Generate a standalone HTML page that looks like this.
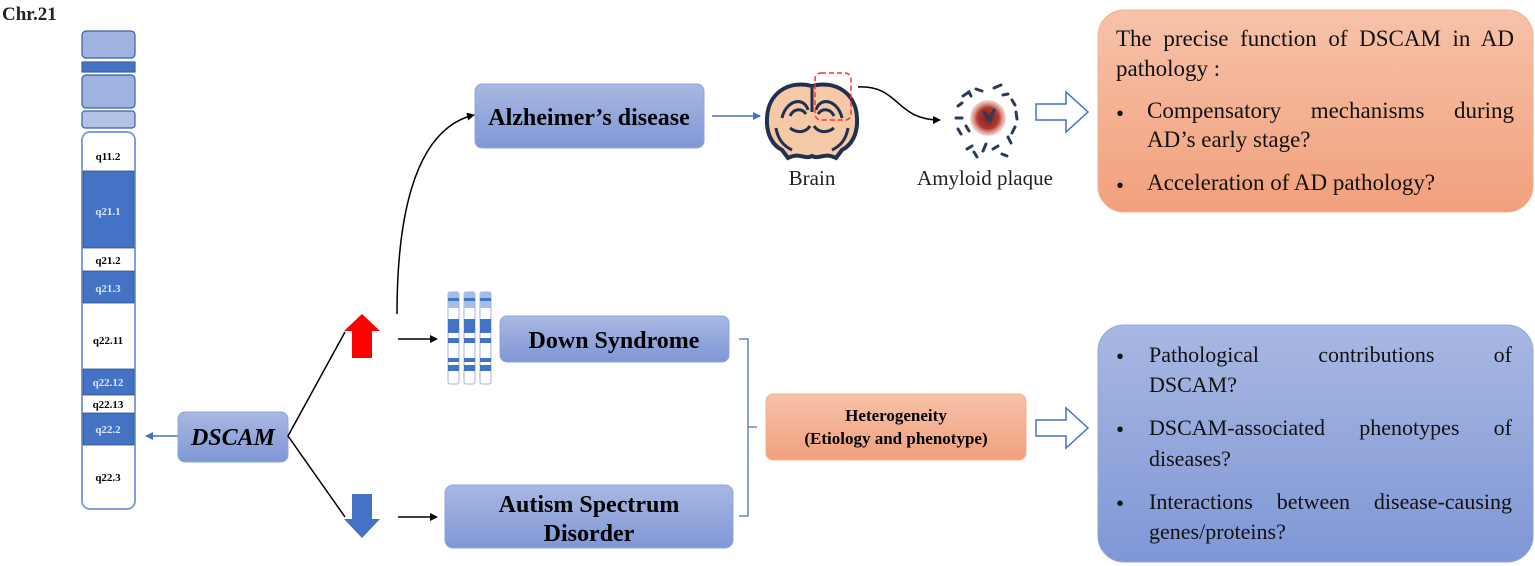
<!DOCTYPE html>
<html><head><meta charset="utf-8"><style>
body{margin:0;background:#fff;}
svg{display:block;font-family:"Liberation Serif",serif;position:absolute;left:0;top:0;}
.t{position:absolute;font-family:"Liberation Serif",serif;color:#111;white-space:nowrap;}
.j{text-align:justify;text-align-last:justify;white-space:normal;}
</style></head><body>
<div style="position:relative;width:1535px;height:566px;overflow:hidden">
<svg width="1535" height="566" viewBox="0 0 1535 566" xmlns="http://www.w3.org/2000/svg">
<defs>
<linearGradient id="bl" x1="0" y1="0" x2="0" y2="1"><stop offset="0" stop-color="#a9b8e2"/><stop offset="1" stop-color="#7f97d6"/></linearGradient>
<linearGradient id="or" x1="0" y1="0" x2="0" y2="1"><stop offset="0" stop-color="#f7c2a9"/><stop offset="1" stop-color="#f1a07c"/></linearGradient>
<radialGradient id="pl"><stop offset="0" stop-color="#7a2020"/><stop offset="0.6" stop-color="#b03a30"/><stop offset="1" stop-color="#e08070" stop-opacity="0.3"/></radialGradient>
<marker id="ah" markerWidth="8" markerHeight="8" refX="7" refY="4" orient="auto" markerUnits="userSpaceOnUse"><path d="M0,0 L8,4 L0,8 z" fill="#000"/></marker>
<marker id="ahb" markerWidth="8" markerHeight="8" refX="7" refY="4" orient="auto" markerUnits="userSpaceOnUse"><path d="M0,0 L8,4 L0,8 z" fill="#4472c4"/></marker>
</defs>
<text x="2" y="20" font-size="19" font-weight="bold" fill="#222">Chr.21</text>
<g stroke="#3a5fa8" stroke-width="1.2">
<rect x="82" y="31" width="53" height="27" rx="4" fill="#9fb3e0"/>
<rect x="82" y="62" width="53" height="10" fill="#4472c4"/>
<rect x="82" y="75" width="53" height="33" rx="4" fill="#9fb3e0"/>
<rect x="82" y="111" width="53" height="17" rx="3" fill="#b3c3e8"/>
</g>
<rect x="82" y="132" width="53" height="377" rx="8" fill="#fff" stroke="#7f9fe0" stroke-width="2"/>
<g fill="#4472c4" stroke="#2f4f8f" stroke-width="0.8">
<rect x="83" y="171" width="51" height="77"/>
<rect x="83" y="271" width="51" height="32"/>
<rect x="83" y="369" width="51" height="26"/>
<rect x="83" y="413" width="51" height="32"/>
</g>
<g font-size="11" font-weight="bold" text-anchor="middle">
<text x="108" y="160">q11.2</text>
<text x="108" y="215" fill="#dce6fa">q21.1</text>
<text x="108" y="264">q21.2</text>
<text x="108" y="292" fill="#dce6fa">q21.3</text>
<text x="108" y="344">q22.11</text>
<text x="108" y="386" fill="#dce6fa">q22.12</text>
<text x="108" y="408">q22.13</text>
<text x="108" y="433" fill="#dce6fa">q22.2</text>
<text x="108" y="481">q22.3</text>
</g>
<line x1="178" y1="436" x2="146" y2="436" stroke="#4472c4" stroke-width="1.5" marker-end="url(#ahb)"/>
<rect x="178" y="412" width="110" height="50" rx="7" fill="url(#bl)" stroke="#8fa6dc"/>
<text x="233" y="445" font-size="24" font-weight="bold" font-style="italic" text-anchor="middle">DSCAM</text>
<polyline points="345,332 288,436 345,517" fill="none" stroke="#000" stroke-width="1.5"/>
<path d="M362,314 L380,331 L372,331 L372,358 L352,358 L352,331 L344,331 z" fill="#ff0000"/>
<path d="M352,494 L372,494 L372,519 L380,519 L362,538 L344,519 L352,519 z" fill="#4472c4"/>
<line x1="398" y1="339" x2="437" y2="339" stroke="#000" stroke-width="1.5" marker-end="url(#ah)"/>
<line x1="398" y1="517" x2="437" y2="517" stroke="#000" stroke-width="1.5" marker-end="url(#ah)"/>
<path d="M397,314 C397,230 410,130 474,115" fill="none" stroke="#000" stroke-width="1.5" marker-end="url(#ah)"/>
<g>
<g id="mc">
<rect x="448" y="292" width="11" height="92" rx="2" fill="#fff" stroke="#9fb3e0"/>
<rect x="448" y="292" width="11" height="16" fill="#a9bbe6"/>
<rect x="448" y="298" width="11" height="3" fill="#4472c4"/>
<rect x="448" y="319" width="11" height="14" fill="#4472c4"/>
<rect x="448" y="338" width="11" height="5" fill="#4472c4"/>
<rect x="448" y="358" width="11" height="4" fill="#4472c4"/>
<rect x="448" y="365" width="11" height="6" fill="#4472c4"/>
</g>
<use href="#mc" x="16"/><use href="#mc" x="32"/>
</g>
<rect x="500" y="316" width="229" height="46" rx="7" fill="url(#bl)" stroke="#8fa6dc"/>
<text x="614" y="348" font-size="24" font-weight="bold" text-anchor="middle">Down Syndrome</text>
<rect x="445" y="485" width="288" height="63" rx="8" fill="url(#bl)" stroke="#8fa6dc"/>
<text x="589" y="512" font-size="24" font-weight="bold" text-anchor="middle">Autism Spectrum</text>
<text x="589" y="541" font-size="24" font-weight="bold" text-anchor="middle">Disorder</text>
<path d="M739,339 L748,339 L748,516 L739,516 M748,427 L757,427" fill="none" stroke="#4472c4" stroke-width="1.3"/>
<rect x="766" y="394" width="260" height="66" rx="7" fill="url(#or)" stroke="#f3b08f"/>
<text x="896" y="421" font-size="17" font-weight="bold" text-anchor="middle">Heterogeneity</text>
<text x="896" y="444" font-size="17" font-weight="bold" text-anchor="middle">(Etiology and phenotype)</text>
<path d="M1036,420 L1066,420 L1066,408 L1088,428 L1066,448 L1066,436 L1036,436 z" fill="#fff" stroke="#4472c4" stroke-width="1.5"/>
<path d="M1036,104 L1066,104 L1066,92 L1088,112 L1066,132 L1066,120 L1036,120 z" fill="#fff" stroke="#4472c4" stroke-width="1.5"/>
<rect x="475" y="84" width="229" height="64" rx="7" fill="url(#bl)" stroke="#8fa6dc"/>
<text x="589" y="125" font-size="24" font-weight="bold" text-anchor="middle">Alzheimer’s disease</text>
<line x1="712" y1="116" x2="760" y2="116" stroke="#4472c4" stroke-width="1.5" marker-end="url(#ahb)"/>
<!-- brain (coronal) -->
<path d="M812,86 C790,80 768,92 767,118 C766,136 774,146 782,150 L788,158 C800,152 805,160 812,156 C819,160 824,152 836,158 L842,150 C850,146 858,136 857,118 C856,92 834,80 812,86 Z" fill="#f5c9a6" stroke="#1f3050" stroke-width="4"/>
<path d="M812,88 L812,112 M782,118 C786,100 804,96 808,110 M816,110 C820,96 838,100 842,118 M790,116 C794,108 802,108 806,114 M818,114 C822,108 830,108 834,116 M790,128 C798,134 806,132 810,126 M814,126 C818,132 826,134 834,128 M776,128 C778,140 784,146 792,150 M848,128 C846,140 840,146 832,150" fill="none" stroke="#1f3050" stroke-width="3"/>
<rect x="815" y="73" width="36" height="47" rx="6" fill="none" stroke="#ff3030" stroke-width="1.5" stroke-dasharray="5,3"/>
<path d="M858,87 C900,85 895,120 940,120" fill="none" stroke="#000" stroke-width="1.5" marker-end="url(#ah)"/>
<text x="812" y="185" font-size="21" text-anchor="middle" fill="#222">Brain</text>
<circle cx="988" cy="118" r="18" fill="url(#pl)"/>
<g stroke="#2a3a5a" stroke-width="3" fill="none" stroke-linecap="round">
<path d="M963,96 l6,-4 l2,4 M976,89 l6,2 M994,88 l7,-3 M1003,95 l5,-1 M1012,100 l3,5 M1016,112 l1,7 M1015,127 l-3,6 M1008,137 l3,6 M998,146 l-5,3 M986,144 l-3,7 M972,146 l-5,3 M961,134 l-3,-5 M956,118 l6,0 M958,106 l4,-3 M974,152 l3,5 M1002,154 l5,2 M984,112 l6,8 l4,-10 M966,126 l3,5"/>
</g>
<text x="985" y="185" font-size="21" text-anchor="middle" fill="#222">Amyloid plaque</text>
<rect x="1098" y="10" width="435" height="202" rx="26" fill="url(#or)" stroke="#f3b08f"/>
<rect x="1098" y="325" width="435" height="237" rx="26" fill="url(#bl)" stroke="#8fa6dc"/>
<g font-size="23" fill="#111">
<text x="1116" y="121">•</text><text x="1116" y="193">•</text>
<text x="1116" y="364">•</text><text x="1116" y="437">•</text><text x="1116" y="511">•</text>
</g>
</svg>
<div class="t" style="left:1116px;top:0;font-size:23px">
<div class="j" style="position:absolute;top:26px;width:398px">The precise function of DSCAM in AD</div>
<div style="position:absolute;top:56px">pathology :</div>
<div class="j" style="position:absolute;left:31px;top:98px;width:367px">Compensatory mechanisms during</div>
<div style="position:absolute;left:31px;top:127px">AD’s early stage?</div>
<div style="position:absolute;left:31px;top:170px">Acceleration of AD pathology?</div>
</div>
<div class="t" style="left:1149px;top:0;font-size:22px">
<div class="j" style="position:absolute;top:342px;width:363px">Pathological contributions of</div>
<div style="position:absolute;top:372px">DSCAM?</div>
<div class="j" style="position:absolute;top:415px;width:363px">DSCAM-associated phenotypes of</div>
<div style="position:absolute;top:446px">diseases?</div>
<div class="j" style="position:absolute;top:489px;width:363px">Interactions between disease-causing</div>
<div style="position:absolute;top:519px">genes/proteins?</div>
</div>
</div>
</body></html>
